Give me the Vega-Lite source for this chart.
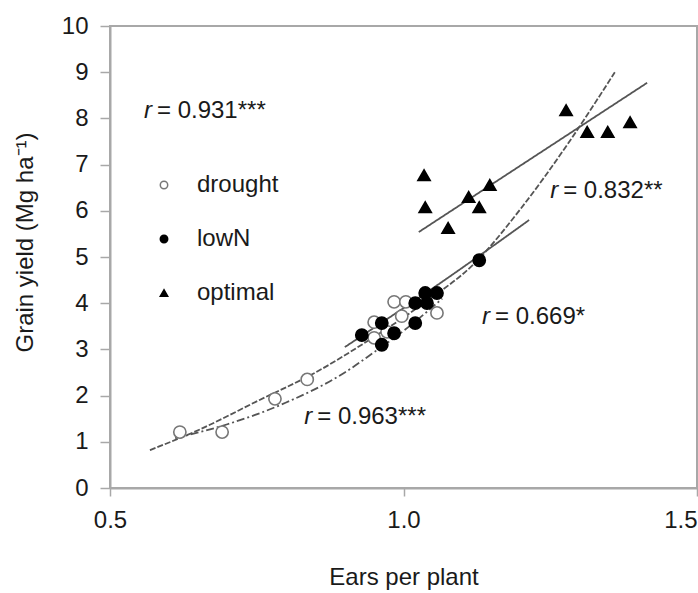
{
  "$schema": "https://vega.github.io/schema/vega-lite/v6.json",
  "width": 587,
  "height": 462,
  "autosize": {"type": "none"},
  "padding": {"left": 110, "top": 26, "right": 1, "bottom": 105},
  "config": {
    "font": "Liberation Sans",
    "view": {"stroke": "#a8a8a8", "strokeWidth": 2},
    "axis": {
      "grid": false,
      "domainColor": "#a8a8a8",
      "domainWidth": 2,
      "tickColor": "#a8a8a8",
      "tickWidth": 1.5,
      "labelColor": "#1a1a1a",
      "titleColor": "#1a1a1a",
      "labelFontSize": 24,
      "titleFontSize": 24,
      "titleFontWeight": "normal",
      "labelFont": "Liberation Sans",
      "titleFont": "Liberation Sans"
    }
  },
  "datasets": {
    "points": [
      {"x": 0.619, "y": 1.21, "group": "drought"},
      {"x": 0.691, "y": 1.21, "group": "drought"},
      {"x": 0.781, "y": 1.93, "group": "drought"},
      {"x": 0.836, "y": 2.35, "group": "drought"},
      {"x": 0.950, "y": 3.59, "group": "drought"},
      {"x": 0.950, "y": 3.25, "group": "drought"},
      {"x": 0.972, "y": 3.38, "group": "drought"},
      {"x": 0.984, "y": 4.03, "group": "drought"},
      {"x": 1.004, "y": 4.03, "group": "drought"},
      {"x": 0.997, "y": 3.72, "group": "drought"},
      {"x": 1.057, "y": 3.79, "group": "drought"},
      {"x": 0.929, "y": 3.31, "group": "lowN"},
      {"x": 0.963, "y": 3.57, "group": "lowN"},
      {"x": 0.984, "y": 3.35, "group": "lowN"},
      {"x": 0.963, "y": 3.10, "group": "lowN"},
      {"x": 1.020, "y": 3.57, "group": "lowN"},
      {"x": 1.020, "y": 4.00, "group": "lowN"},
      {"x": 1.037, "y": 4.22, "group": "lowN"},
      {"x": 1.057, "y": 4.22, "group": "lowN"},
      {"x": 1.040, "y": 4.00, "group": "lowN"},
      {"x": 1.129, "y": 4.93, "group": "lowN"},
      {"x": 1.277, "y": 8.18, "group": "optimal"},
      {"x": 1.313, "y": 7.71, "group": "optimal"},
      {"x": 1.348, "y": 7.71, "group": "optimal"},
      {"x": 1.386, "y": 7.92, "group": "optimal"},
      {"x": 1.035, "y": 6.77, "group": "optimal"},
      {"x": 1.147, "y": 6.56, "group": "optimal"},
      {"x": 1.111, "y": 6.30, "group": "optimal"},
      {"x": 1.037, "y": 6.08, "group": "optimal"},
      {"x": 1.129, "y": 6.08, "group": "optimal"},
      {"x": 1.076, "y": 5.63, "group": "optimal"}
    ],
    "fits": [
      {"series": "all", "x": 0.568, "y": 0.82},
      {"series": "all", "x": 0.65, "y": 1.25},
      {"series": "all", "x": 0.754, "y": 1.90},
      {"series": "all", "x": 0.85, "y": 2.50},
      {"series": "all", "x": 0.941, "y": 3.20},
      {"series": "all", "x": 1.04, "y": 4.05},
      {"series": "all", "x": 1.12, "y": 4.85},
      {"series": "all", "x": 1.20, "y": 6.05},
      {"series": "all", "x": 1.28, "y": 7.45},
      {"series": "all", "x": 1.36, "y": 9.0},
      {"series": "drought", "x": 0.611, "y": 1.08},
      {"series": "drought", "x": 0.70, "y": 1.38},
      {"series": "drought", "x": 0.80, "y": 1.85},
      {"series": "drought", "x": 0.90, "y": 2.50},
      {"series": "drought", "x": 0.951, "y": 2.95},
      {"series": "drought", "x": 1.00, "y": 3.40},
      {"series": "drought", "x": 1.066, "y": 4.10},
      {"series": "lowN", "x": 0.90, "y": 3.05},
      {"series": "lowN", "x": 1.07, "y": 4.50},
      {"series": "lowN", "x": 1.214, "y": 5.80},
      {"series": "optimal", "x": 1.026, "y": 5.54},
      {"series": "optimal", "x": 1.415, "y": 8.77}
    ],
    "ann": [
      {"x": 0.580, "y": 8.16, "t": "= 0.931***"},
      {"x": 1.272, "y": 6.43, "t": "= 0.832**"},
      {"x": 1.156, "y": 3.70, "t": "= 0.669*"},
      {"x": 0.853, "y": 1.54, "t": "= 0.963***"}
    ]
  },
  "layer": [
    {
      "data": {"name": "fits"},
      "mark": {"type": "line", "interpolate": "monotone", "color": "#555555", "strokeWidth": 1.8},
      "encoding": {
        "x": {"field": "x", "type": "quantitative", "scale": {"domain": [0.5, 1.5], "nice": false},
          "axis": {"values": [0.5, 1.0, 1.5], "format": ".1f", "tickSize": 8, "labelPadding": 12, "labelFlush": false,
            "labelAlign": {"condition": {"test": "datum.value >= 1.4", "value": "right"}, "value": "center"},
            "title": "Ears per plant", "titlePadding": 33}},
        "y": {"field": "y", "type": "quantitative", "scale": {"domain": [0, 10], "nice": false},
          "axis": {"values": [0,1,2,3,4,5,6,7,8,9,10], "tickSize": 10, "labelPadding": 12, "title": "Grain yield (Mg ha⁻¹)", "titlePadding": 24, "titleY": 216}},
        "detail": {"field": "series"},
        "strokeDash": {"field": "series", "type": "nominal",
          "scale": {"domain": ["all", "drought", "lowN", "optimal"], "range": [[6, 2], [8, 3, 2, 3], [1, 0], [1, 0]]},
          "legend": null}
      }
    },
    {
      "data": {"name": "points"},
      "mark": {"type": "point", "filled": true, "size": 150, "strokeWidth": 1.6, "opacity": 1},
      "encoding": {
        "x": {"field": "x", "type": "quantitative"},
        "y": {"field": "y", "type": "quantitative"},
        "shape": {"field": "group", "type": "nominal",
          "scale": {"domain": ["drought", "lowN", "optimal"], "range": ["circle", "circle", "triangle-up"]},
          "legend": {"orient": "none", "legendX": 42, "legendY": 147, "title": null, "padding": 0,
            "symbolSize": 55, "labelFontSize": 24, "labelColor": "#1a1a1a", "labelOffset": 21, "rowPadding": 30, "symbolStrokeWidth": 1.5}},
        "fill": {"field": "group", "type": "nominal",
          "scale": {"domain": ["drought", "lowN", "optimal"], "range": ["#ffffff", "#000000", "#000000"]}},
        "stroke": {"field": "group", "type": "nominal",
          "scale": {"domain": ["drought", "lowN", "optimal"], "range": ["#777777", "#000000", "#000000"]}}
      }
    },
    {
      "data": {"name": "ann"},
      "mark": {"type": "text", "align": "left", "baseline": "middle", "fontSize": 24, "color": "#1a1a1a"},
      "encoding": {
        "x": {"field": "x", "type": "quantitative"},
        "y": {"field": "y", "type": "quantitative"},
        "text": {"field": "t"}
      }
    },
    {
      "data": {"name": "ann"},
      "mark": {"type": "text", "align": "right", "baseline": "middle", "fontSize": 24, "fontStyle": "italic", "color": "#1a1a1a", "dx": -5, "text": "r"},
      "encoding": {
        "x": {"field": "x", "type": "quantitative"},
        "y": {"field": "y", "type": "quantitative"}
      }
    }
  ]
}
